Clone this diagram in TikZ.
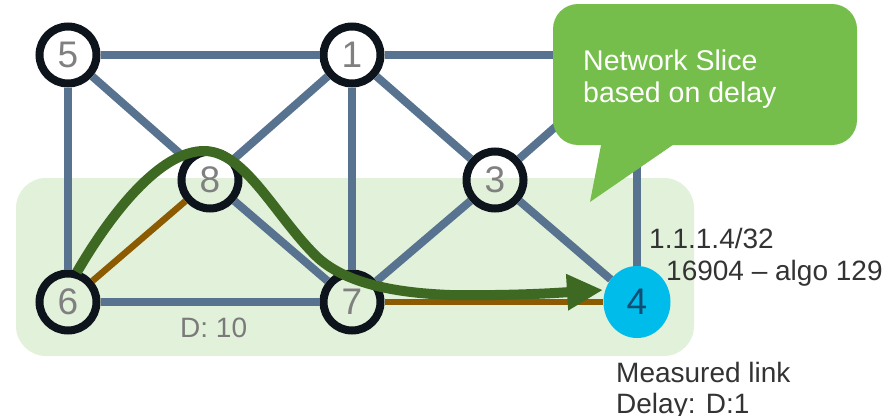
\documentclass[tikz,border=0pt]{standalone}
\usepackage{fontspec}
\setmainfont{Liberation Sans}
\usetikzlibrary{shapes.geometric,arrows.meta}
\definecolor{edgec}{HTML}{587390}
\definecolor{ringc}{HTML}{0D141C}
\definecolor{numc}{HTML}{808080}
\definecolor{regionc}{HTML}{E2F1DA}
\definecolor{calloutc}{HTML}{75BE4B}
\definecolor{pathc}{HTML}{3D6922}
\definecolor{orangec}{HTML}{8C5A00}
\definecolor{cyanc}{HTML}{00BCEB}
\definecolor{fourc}{HTML}{104E73}
\definecolor{labelc}{HTML}{333333}
\definecolor{dlabelc}{HTML}{7A7A7A}
\begin{document}
\begin{tikzpicture}[x=1pt,y=-1pt,
  router/.style={circle,draw=ringc,line width=8pt,minimum size=57pt,inner sep=0pt,
    font=\fontsize{37}{40}\selectfont,text=numc},
  target/.style={ellipse,fill=cyanc,minimum width=67pt,minimum height=72pt,inner sep=0pt,
    font=\fontsize{37}{40}\selectfont,text=fourc},
  link/.style={draw=edgec,line width=8pt},
  slicelink/.style={draw=orangec,line width=6.5pt},
  slicepath/.style={draw=pathc,line width=10pt,-{Triangle[length=36pt,width=34pt]}},
  lbl/.style={anchor=base west,inner sep=0pt,font=\fontsize{28}{32}\selectfont,text=labelc},
  clbl/.style={anchor=base west,inner sep=0pt,font=\fontsize{28.5}{32}\selectfont,text=white}]
\useasboundingbox (0,0) rectangle (885,415);
% slice region
\fill[regionc,rounded corners=30pt] (16,178) rectangle (694,356);
% routers
\node[router] (n5) at (68,55) {5};
\node[router] (n1) at (352,55) {1};
\node[router] (n8) at (210,180) {8};
\node[router] (n3) at (495,180) {3};
\node[router] (n6) at (68,302) {6};
\node[router] (n7) at (352,302) {7};
\node[target] (n4) at (637,302) {4};
\coordinate (n2) at (637,55);
% links
\draw[link] (n5) -- (n1);
\draw[link] (n1) -- (n2);
\draw[link] (n5) -- (n8);
\draw[link] (n5) -- (n6);
\draw[link] (n1) -- (n8);
\draw[link] (n1) -- (n7);
\draw[link] (n1) -- (n3);
\draw[link] (n8) -- (n7);
\draw[link] (n6) -- (n7);
\draw[link] (n7) -- (n3);
\draw[link] (n3) -- (n4);
\draw[link] (n3) -- (n2);
\draw[link] (n2) -- (n4);
\draw[slicelink] (n6) -- (n8);
\draw[slicelink] (n7) -- (n4);
% slice path
\coordinate (gs) at (77,272);
\coordinate (ge) at (603,290);
\draw[slicepath] (gs) .. controls (110,215) and (160,150) .. (205,151)
  .. controls (245,152) and (275,215) .. (315,255)
  .. controls (345,285) and (400,293) .. (450,295)
  .. controls (520,296) and (570,292) .. (ge);
% callout
\node[fill=calloutc,rounded corners=25pt,minimum width=304pt,minimum height=141pt,inner sep=0pt] (callout) at (705,74.5) {};
\fill[calloutc] (602,140) -- (590,202) -- (680,140) -- cycle;
\node[clbl] (ct1) at (583,70) {Network Slice};
\node[clbl] (ct2) at (583,102) {based on delay};
% labels
\node[lbl,text=dlabelc] (dl) at (180,337) {D: 10};
\node[lbl] (pfx) at (649,248) {1.1.1.4/32};
\node[lbl] (sid) at (666,280) {16904 – algo 129};
\node[lbl] (ml1) at (616,382) {Measured link};
\node[lbl] (ml2) at (616,413) {Delay: D:1};
\end{tikzpicture}
\end{document}
